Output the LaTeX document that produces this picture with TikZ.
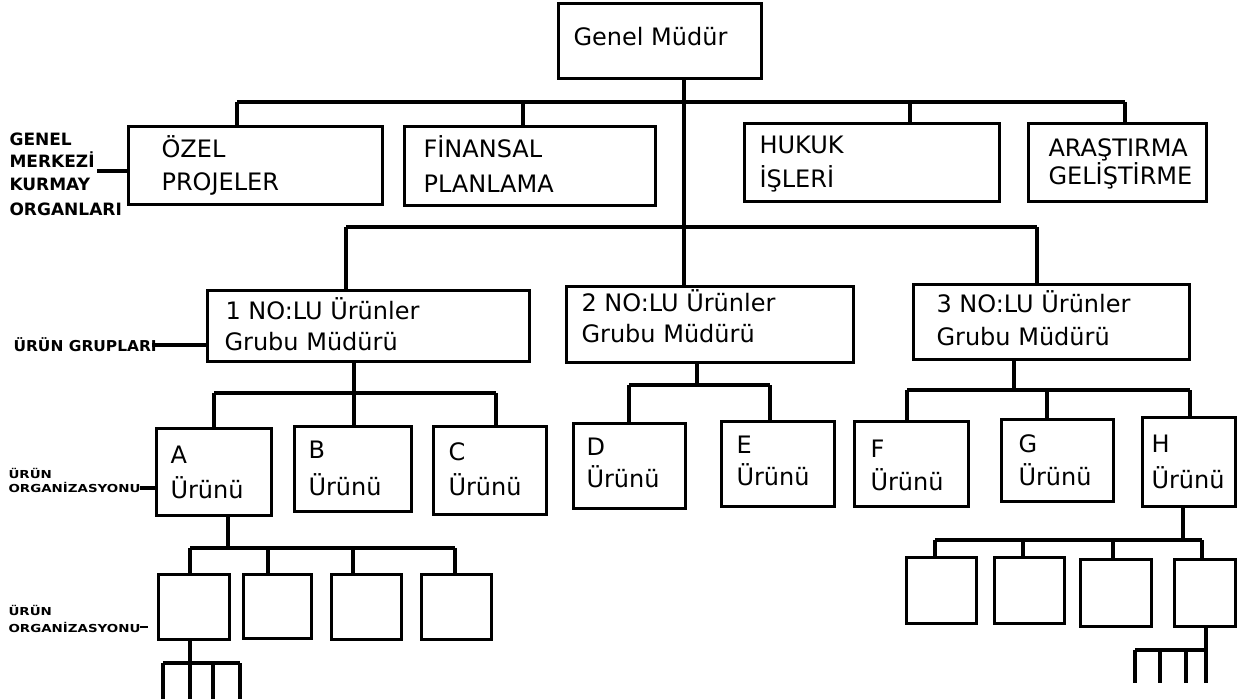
\documentclass[tikz,border=0pt]{standalone}
\usepackage{fontspec}
\usepackage{graphicx}
\setmainfont{DejaVu Sans}
\begin{document}
\begin{tikzpicture}[x=1pt,y=-1pt,
  line width=3.1pt,
  orgbox/.style={draw, rectangle, inner sep=0pt, anchor=north west},
  boxtext/.style={anchor=base west, inner sep=0pt, font=\fontsize{24}{28}\selectfont},
  sidetext/.style={anchor=base west, inner sep=0pt, font=\bfseries\fontsize{17}{20}\selectfont},
  grouptext/.style={anchor=base west, inner sep=0pt, font=\bfseries\fontsize{15}{17}\selectfont},
  tinytext/.style={anchor=base west, inner sep=0pt, font=\bfseries\fontsize{11}{13}\selectfont}]

\useasboundingbox (0,0) rectangle (1248,699);

% ---------- boxes ----------
\node[orgbox, minimum width=203pt, minimum height=75pt] (gm)  at (557,2)   {};
\node[orgbox, minimum width=254pt, minimum height=78pt] (ozel) at (127,125) {};
\node[orgbox, minimum width=251pt, minimum height=79pt] (fin) at (403,125) {};
\node[orgbox, minimum width=255pt, minimum height=78pt] (huk) at (743,122) {};
\node[orgbox, minimum width=178pt, minimum height=78pt] (ara) at (1027,122) {};

\node[orgbox, minimum width=322pt, minimum height=71pt] (g1) at (206,289) {};
\node[orgbox, minimum width=287pt, minimum height=76pt] (g2) at (565,285) {};
\node[orgbox, minimum width=276pt, minimum height=75pt] (g3) at (912,283) {};

\node[orgbox, minimum width=115pt, minimum height=87pt] (pA) at (155,427) {};
\node[orgbox, minimum width=117pt, minimum height=85pt] (pB) at (293,425) {};
\node[orgbox, minimum width=113pt, minimum height=88pt] (pC) at (432,425) {};
\node[orgbox, minimum width=112pt, minimum height=85pt] (pD) at (572,422) {};
\node[orgbox, minimum width=113pt, minimum height=85pt] (pE) at (720,420) {};
\node[orgbox, minimum width=114pt, minimum height=85pt] (pF) at (853,420) {};
\node[orgbox, minimum width=112pt, minimum height=82pt] (pG) at (1000,418) {};
\node[orgbox, minimum width=93pt,  minimum height=89pt] (pH) at (1141,416) {};

\node[orgbox, minimum width=71pt, minimum height=65pt] (s1) at (157,573) {};
\node[orgbox, minimum width=68pt, minimum height=64pt] (s2) at (242,573) {};
\node[orgbox, minimum width=70pt, minimum height=65pt] (s3) at (330,573) {};
\node[orgbox, minimum width=70pt, minimum height=65pt] (s4) at (420,573) {};

\node[orgbox, minimum width=70pt, minimum height=66pt] (t1) at (905,556) {};
\node[orgbox, minimum width=70pt, minimum height=66pt] (t2) at (993,556) {};
\node[orgbox, minimum width=71pt, minimum height=67pt] (t3) at (1079,558) {};
\node[orgbox, minimum width=61pt, minimum height=67pt] (t4) at (1173,558) {};

% ---------- box texts ----------
\node[boxtext] (gmT) at (572,45) {Genel Müdür};
\node[boxtext] (ozelT1) at (160,157) {ÖZEL};
\node[boxtext] (ozelT2) at (160,190) {PROJELER};
\node[boxtext] (finT1) at (422,157) {FİNANSAL};
\node[boxtext] (finT2) at (422,192) {PLANLAMA};
\node[boxtext] (hukT1) at (758,153) {HUKUK};
\node[boxtext] (hukT2) at (758,187) {İŞLERİ};
\node[boxtext] (araT1) at (1047,156) {ARAŞTIRMA};
\node[boxtext] (araT2) at (1047,184) {GELİŞTİRME};

\node[boxtext] (g1T1) at (224,319) {1 NO:LU Ürünler};
\node[boxtext] (g1T2) at (223,350) {Grubu Müdürü};
\node[boxtext] (g2T1) at (580,311) {2 NO:LU Ürünler};
\node[boxtext] (g2T2) at (580,342) {Grubu Müdürü};
\node[boxtext] (g3T1) at (935,312) {3 NO:LU Ürünler};
\node[boxtext] (g3T2) at (935,345) {Grubu Müdürü};

\node[boxtext] (pAT1) at (169,463) {A};
\node[boxtext] (pAT2) at (169,498) {Ürünü};
\node[boxtext] (pBT1) at (307,458) {B};
\node[boxtext] (pBT2) at (307,495) {Ürünü};
\node[boxtext] (pCT1) at (447,460) {C};
\node[boxtext] (pCT2) at (447,495) {Ürünü};
\node[boxtext] (pDT1) at (585,455) {D};
\node[boxtext] (pDT2) at (585,487) {Ürünü};
\node[boxtext] (pET1) at (735,453) {E};
\node[boxtext] (pET2) at (735,485) {Ürünü};
\node[boxtext] (pFT1) at (869,457) {F};
\node[boxtext] (pFT2) at (869,490) {Ürünü};
\node[boxtext] (pGT1) at (1017,452) {G};
\node[boxtext] (pGT2) at (1017,485) {Ürünü};
\node[boxtext] (pHT1) at (1150,452) {H};
\node[boxtext] (pHT2) at (1150,488) {Ürünü};

% ---------- level captions on the left ----------
\node[sidetext] (capA1) at (8,145) {GENEL};
\node[sidetext] (capA2) at (8,167) {MERKEZİ};
\node[sidetext] (capA3) at (8,190) {KURMAY};
\node[sidetext] (capA4) at (8,215) {ORGANLARI};
\node[grouptext] (capB) at (12,351) {\scalebox{1.03}[1]{ÜRÜN GRUPLARI}};
\node[tinytext] (capC1) at (7,478) {\scalebox{1.22}[1]{ÜRÜN}};
\node[tinytext] (capC2) at (7,492) {\scalebox{1.22}[1]{ORGANİZASYONU}};
\node[tinytext] (capD1) at (7,615) {\scalebox{1.22}[1]{ÜRÜN}};
\node[tinytext] (capD2) at (7,632) {\scalebox{1.22}[1]{ORGANİZASYONU}};

% ---------- junction points ----------
\coordinate (top) at (684,102);
\coordinate (sb1) at (237,102);
\coordinate (sb2) at (523,102);
\coordinate (sb3) at (910,102);
\coordinate (sb4) at (1125,102);
\coordinate (gb1) at (346,227);
\coordinate (gb3) at (1037,227);

\coordinate (j1) at (354,393);
\coordinate (j1a) at (214,393);
\coordinate (j1c) at (496,393);
\coordinate (j2) at (697,385);
\coordinate (j2d) at (629,385);
\coordinate (j2e) at (770,385);
\coordinate (j3) at (1014,390);
\coordinate (j3f) at (907,390);
\coordinate (j3g) at (1047,390);
\coordinate (j3h) at (1190,390);

\coordinate (ka) at (228,548);
\coordinate (ka1) at (190,548);
\coordinate (ka2) at (268,548);
\coordinate (ka3) at (353,548);
\coordinate (ka4) at (455,548);
\coordinate (kh) at (1183,540);
\coordinate (kh1) at (935,540);
\coordinate (kh2) at (1023,540);
\coordinate (kh3) at (1113,540);
\coordinate (kh4) at (1202,540);

\coordinate (fa) at (190,663);
\coordinate (fa1) at (163,663);
\coordinate (fa3) at (213,663);
\coordinate (fa4) at (240,663);
\coordinate (fh) at (1206,650);
\coordinate (fh1) at (1135,650);
\coordinate (fh2) at (1160,650);
\coordinate (fh3) at (1186,650);

\coordinate (tickA) at (97,171);
\coordinate (tickB) at (152,345);
\coordinate (tickC) at (140,488);
\coordinate (tickD) at (140,627);
\coordinate (tickDe) at (148,627);

% ---------- connectors ----------
% general manager to staff and group levels
\draw (gm.south -| top) -- (g2.north -| top);
\draw (sb1) -- (sb4);
\draw (sb1) -- (sb1 |- ozel.north);
\draw (sb2) -- (sb2 |- fin.north);
\draw (sb3) -- (sb3 |- huk.north);
\draw (sb4) -- (sb4 |- ara.north);
\draw (gb1) -- (gb3);
\draw (gb1) -- (gb1 |- g1.north);
\draw (gb3) -- (gb3 |- g3.north);

% group 1 products
\draw (g1.south -| j1) -- (j1);
\draw (j1a) -- (j1c);
\draw (j1a) -- (j1a |- pA.north);
\draw (j1) -- (j1 |- pB.north);
\draw (j1c) -- (j1c |- pC.north);
% group 2 products
\draw (g2.south -| j2) -- (j2);
\draw (j2d) -- (j2e);
\draw (j2d) -- (j2d |- pD.north);
\draw (j2e) -- (j2e |- pE.north);
% group 3 products
\draw (g3.south -| j3) -- (j3);
\draw (j3f) -- (j3h);
\draw (j3f) -- (j3f |- pF.north);
\draw (j3g) -- (j3g |- pG.north);
\draw (j3h) -- (j3h |- pH.north);

% product A organisation
\draw (pA.south -| ka) -- (ka);
\draw (ka1) -- (ka4);
\draw (ka1) -- (ka1 |- s1.north);
\draw (ka2) -- (ka2 |- s2.north);
\draw (ka3) -- (ka3 |- s3.north);
\draw (ka4) -- (ka4 |- s4.north);
\draw (s1.south -| fa) -- ([yshift=-36pt]fa);
\draw (fa1) -- (fa4);
\draw (fa1) -- ([yshift=-36pt]fa1);
\draw (fa3) -- ([yshift=-36pt]fa3);
\draw (fa4) -- ([yshift=-36pt]fa4);

% product H organisation
\draw (pH.south -| kh) -- (kh);
\draw (kh1) -- (kh4);
\draw (kh1) -- (kh1 |- t1.north);
\draw (kh2) -- (kh2 |- t2.north);
\draw (kh3) -- (kh3 |- t3.north);
\draw (kh4) -- (kh4 |- t4.north);
\draw (t4.south -| fh) -- ([yshift=-33pt]fh);
\draw (fh1) -- (fh);
\draw (fh1) -- ([yshift=-33pt]fh1);
\draw (fh2) -- ([yshift=-33pt]fh2);
\draw (fh3) -- ([yshift=-33pt]fh3);

% caption ticks
\draw (tickA) -- (tickA -| ozel.west);
\draw (tickB) -- (tickB -| g1.west);
\draw (tickC) -- (tickC -| pA.west);
\draw[line width=1.6pt] (tickD) -- (tickDe);
\end{tikzpicture}
\end{document}
